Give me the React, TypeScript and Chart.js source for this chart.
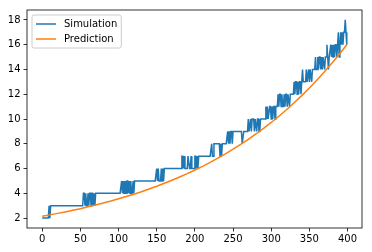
import React, { useEffect, useRef } from "react";
import { Chart, registerables } from "chart.js";

Chart.register(...registerables);

// Simulation values, one per step x = 0..399
const simulation: number[] = [
  2, 2, 2, 2, 2, 2, 2, 2, 2, 3, 2, 3, 3, 3, 3, 3, 3, 3, 3, 3,
  3, 3, 3, 3, 3, 3, 3, 3, 3, 3, 3, 3, 3, 3, 3, 3, 3, 3, 3, 3,
  3, 3, 3, 3, 3, 3, 3, 3, 3, 3, 3, 3, 3, 3, 4, 4, 3, 4, 3, 3,
  4, 3, 4, 4, 3, 4, 4, 3, 4, 3, 4, 4, 4, 4, 4, 4, 4, 4, 4, 4,
  4, 4, 4, 4, 4, 4, 4, 4, 4, 4, 4, 4, 4, 4, 4, 4, 4, 4, 4, 4,
  4, 4, 4, 4, 5, 4, 5, 4, 4, 5, 4, 5, 5, 4, 5, 4, 5, 4, 4, 5,
  4, 5, 5, 5, 5, 5, 5, 5, 5, 5, 5, 5, 5, 5, 5, 5, 5, 5, 5, 5,
  5, 5, 5, 5, 5, 5, 5, 5, 5, 5, 6, 5, 6, 5, 5, 5, 6, 5, 6, 5,
  6, 6, 6, 6, 6, 6, 6, 6, 6, 6, 6, 6, 6, 6, 6, 6, 6, 6, 6, 6,
  6, 6, 6, 7, 7, 6, 7, 6, 6, 6, 6, 7, 7, 6, 6, 7, 6, 6, 6, 6,
  7, 7, 6, 7, 6, 7, 7, 7, 7, 7, 7, 7, 7, 7, 7, 7, 7, 7, 7, 7,
  7, 7, 8, 7, 7, 8, 8, 8, 8, 8, 8, 8, 8, 7, 8, 7, 8, 8, 8, 8,
  8, 8, 8, 9, 8, 9, 8, 9, 9, 8, 9, 9, 9, 9, 9, 9, 9, 9, 9, 9,
  9, 9, 8, 8, 9, 9, 9, 9, 9, 9, 10, 9, 9, 10, 9, 10, 10, 10, 9, 10,
  10, 9, 10, 10, 9, 9, 10, 10, 10, 10, 10, 10, 10, 11, 10, 11, 10, 10, 11, 11,
  10, 11, 10, 11, 11, 10, 11, 11, 11, 12, 11, 12, 12, 11, 12, 11, 11, 12, 11, 12,
  12, 11, 12, 12, 11, 12, 12, 12, 12, 12, 13, 12, 13, 13, 12, 13, 12, 13, 13, 12,
  13, 14, 13, 13, 13, 13, 14, 13, 13, 14, 13, 14, 14, 13, 14, 14, 14, 14, 15, 14,
  14, 15, 14, 15, 15, 14, 15, 14, 15, 15, 14, 15, 15, 16, 15, 14, 15, 15, 16, 15,
  16, 15, 16, 15, 16, 16, 15, 16, 17, 15, 16, 17, 16, 17, 16, 17, 17, 18, 17, 16,
];

// Prediction curve, read at sample x positions
const predictionX: number[] = [
  0, 10, 20, 30, 40, 50, 60, 70, 80, 90, 100, 110, 120, 130, 140, 150, 160, 170, 180, 190,
  200, 210, 220, 230, 240, 250, 260, 270, 280, 290, 300, 310, 320, 330, 340, 350, 360, 370, 380, 390, 399,
];
const predictionY: number[] = [
  2.15, 2.26, 2.38, 2.5, 2.63, 2.76, 2.91, 3.06, 3.22, 3.38, 3.56, 3.74, 3.93, 4.13, 4.35, 4.57, 4.81, 5.06, 5.32, 5.59,
  5.88, 6.18, 6.5, 6.84, 7.19, 7.56, 7.95, 8.36, 8.79, 9.25, 9.72, 10.22, 10.75, 11.31, 11.89, 12.5, 13.15, 13.83, 14.54, 15.29, 16.0,
];

const seriesLabels = ["Simulation", "Prediction"];
const seriesColors = ["#1f77b4", "#ff7f0e"];

const xTicks = [0, 50, 100, 150, 200, 250, 300, 350, 400];
const yTicks = [2, 4, 6, 8, 10, 12, 14, 16, 18];
const xLimits = [-19.95, 418.95];
const yLimits = [1.2, 18.8];

const FONT = "'DejaVu Sans', sans-serif";

const framePlugin = {
  id: "frame",
  afterDatasetsDraw(chart: any) {
    const { ctx, chartArea } = chart;
    ctx.save();
    ctx.strokeStyle = "#000";
    ctx.lineWidth = 0.8;
    ctx.strokeRect(chartArea.left, chartArea.top, chartArea.right - chartArea.left, chartArea.bottom - chartArea.top);
    ctx.restore();
  },
};

const legendPlugin = {
  id: "mplLegend",
  afterDraw(chart: any) {
    const { ctx, chartArea } = chart;
    const fontSize = 10;
    ctx.save();
    ctx.font = `${fontSize}px ${FONT}`;
    const labels = chart.data.datasets.map((d: any) => d.label);
    const colors = chart.data.datasets.map((d: any) => d.borderColor);
    const textW = Math.max(...labels.map((l: string) => ctx.measureText(l).width));
    const pad = 4;
    const handle = 20;
    const gap = 8;
    const rowH = 10;
    const rowGap = 5;
    const left = chartArea.left + 5;
    const top = chartArea.top + 5;
    const w = pad + handle + gap + textW + pad;
    const h = pad * 2 + labels.length * rowH + (labels.length - 1) * rowGap;
    const r = 2;
    ctx.beginPath();
    ctx.moveTo(left + r, top);
    ctx.lineTo(left + w - r, top);
    ctx.quadraticCurveTo(left + w, top, left + w, top + r);
    ctx.lineTo(left + w, top + h - r);
    ctx.quadraticCurveTo(left + w, top + h, left + w - r, top + h);
    ctx.lineTo(left + r, top + h);
    ctx.quadraticCurveTo(left, top + h, left, top + h - r);
    ctx.lineTo(left, top + r);
    ctx.quadraticCurveTo(left, top, left + r, top);
    ctx.closePath();
    ctx.fillStyle = "rgba(255,255,255,0.8)";
    ctx.fill();
    ctx.strokeStyle = "#cccccc";
    ctx.lineWidth = 1;
    ctx.stroke();
    // order displayed: Simulation then Prediction
    const order = [1, 0];
    order.forEach((di, row) => {
      const cy = top + pad + rowH / 2 + row * (rowH + rowGap);
      ctx.strokeStyle = colors[di];
      ctx.lineWidth = 1.5;
      ctx.beginPath();
      ctx.moveTo(left + pad, cy);
      ctx.lineTo(left + pad + handle, cy);
      ctx.stroke();
      ctx.fillStyle = "#000";
      ctx.textBaseline = "middle";
      ctx.textAlign = "left";
      ctx.fillText(labels[di], left + pad + handle + gap, cy);
    });
    ctx.restore();
  },
};

export default function App() {
  const ref = useRef<HTMLCanvasElement | null>(null);

  useEffect(() => {
    if (!ref.current) return;
    const simPoints = simulation.map((v, i) => ({ x: i, y: v }));
    const predPoints = predictionX.map((x, i) => ({ x, y: predictionY[i] }));
    const tickFont = { family: FONT, size: 10 };
    const chart = new Chart(ref.current, {
      type: "line",
      data: {
        datasets: [
          {
            label: seriesLabels[1],
            data: predPoints,
            borderColor: seriesColors[1],
            backgroundColor: seriesColors[1],
            borderWidth: 1.5,
            pointRadius: 0,
            tension: 0,
            order: 0,
          },
          {
            label: seriesLabels[0],
            data: simPoints,
            borderColor: seriesColors[0],
            backgroundColor: seriesColors[0],
            borderWidth: 1.5,
            pointRadius: 0,
            tension: 0,
            order: 1,
          },
        ],
      },
      options: {
        animation: false,
        responsive: false,
        devicePixelRatio: 1,
        layout: { padding: { top: 10, right: 10, left: 0, bottom: 0 } },
        plugins: { legend: { display: false }, tooltip: { enabled: false } },
        scales: {
          x: {
            type: "linear",
            min: xLimits[0],
            max: xLimits[1],
            afterBuildTicks: (scale: any) => {
              scale.ticks = xTicks.map((v) => ({ value: v }));
            },
            afterFit: (scale: any) => {
              scale.height = 24;
            },
            grid: { display: true, drawOnChartArea: false, drawTicks: true, tickLength: 3.5, color: "#000", lineWidth: 0.8 },
            border: { display: false },
            ticks: { font: tickFont, color: "#000", padding: 2, maxRotation: 0, autoSkip: false },
          },
          y: {
            type: "linear",
            min: yLimits[0],
            max: yLimits[1],
            afterBuildTicks: (scale: any) => {
              scale.ticks = yTicks.map((v) => ({ value: v }));
            },
            afterFit: (scale: any) => {
              scale.width = 27;
            },
            grid: { display: true, drawOnChartArea: false, drawTicks: true, tickLength: 3.5, color: "#000", lineWidth: 0.8 },
            border: { display: false },
            ticks: { font: tickFont, color: "#000", padding: 3, autoSkip: false },
          },
        },
      },
      plugins: [framePlugin, legendPlugin],
    } as any);
    return () => chart.destroy();
  }, []);

  return (
    <div style={{ position: "absolute", left: 0, top: 0, width: 372, height: 252, background: "#fff" }}>
      <canvas ref={ref} width={372} height={252} style={{ display: "block", width: 372, height: 252 }} />
    </div>
  );
}
